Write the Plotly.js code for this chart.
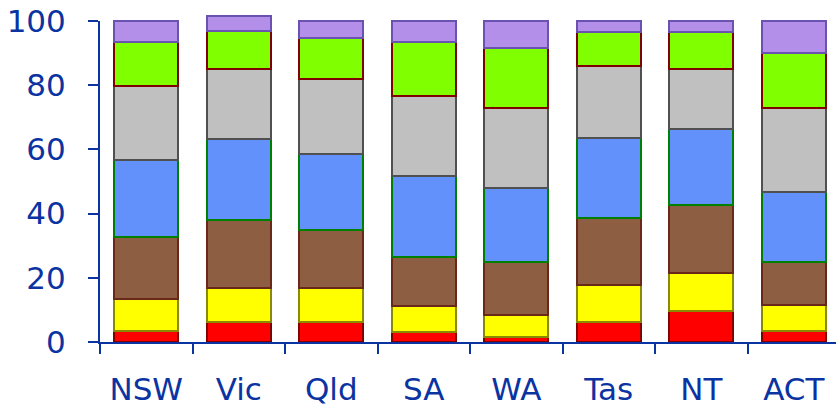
<!DOCTYPE html>
<html>
<head>
<meta charset="utf-8">
<script src="https://cdn.plot.ly/plotly-3.0.1.min.js"></script>
<style>
html,body{margin:0;padding:0;overflow:hidden;background:#fff;}
#chart{width:840px;height:407px;}
</style>
</head>
<body>
<div id="chart"></div>
<script>
const categories = ["NSW", "Vic", "Qld", "SA", "WA", "Tas", "NT", "ACT"];
const seriesRed    = [3.3, 6.1, 6.1, 3.0, 1.6, 6.1, 9.7, 3.3];
const seriesYellow = [10.2, 10.6, 10.6, 8.1, 6.9, 11.7, 11.9, 8.3];
const seriesBrown  = [19.3, 21.3, 18.2, 15.5, 16.3, 20.8, 21.1, 13.2];
const seriesBlue   = [23.9, 25.1, 23.7, 25.1, 23.1, 25.0, 23.8, 21.8];
const seriesGray   = [23.1, 21.8, 23.2, 25.0, 25.0, 22.5, 18.4, 26.3];
const seriesGreen  = [13.7, 11.9, 12.9, 16.8, 18.7, 10.5, 11.7, 17.0];
const seriesPurple = [6.5, 4.7, 5.3, 6.5, 8.4, 3.4, 3.4, 10.1];
const yTicks = [0, 20, 40, 60, 80, 100];

const styles = [
  [seriesRed, "#ff0000", "#800000"],
  [seriesYellow, "#ffff00", "#8a8a00"],
  [seriesBrown, "#8d5e42", "#6a2818"],
  [seriesBlue, "#6391fb", "#008000"],
  [seriesGray, "#c0c0c0", "#505050"],
  [seriesGreen, "#80ff00", "#800000"],
  [seriesPurple, "#b38fea", "#6a52b0"]
];

const traces = styles.map(s => ({
  type: "bar",
  x: categories,
  y: s[0],
  marker: {color: s[1], line: {color: s[2], width: 2}},
  cliponaxis: false,
  hoverinfo: "none"
}));

const axisColor = "#0b33a2";
const layout = {
  width: 840, height: 407,
  margin: {l: 100, r: 0, t: 20.7, b: 64.5},
  barmode: "stack",
  bargap: 0.31,
  showlegend: false,
  paper_bgcolor: "#fff",
  plot_bgcolor: "#fff",
  font: {family: "DejaVu Sans, Verdana, sans-serif", color: axisColor, size: 31},
  xaxis: {
    type: "category",
    showline: true, linecolor: axisColor, linewidth: 2,
    ticks: "outside", tickson: "boundaries", ticklen: 10, tickwidth: 2, tickcolor: axisColor,
    ticklabelstandoff: 19,
    showgrid: false, zeroline: false,
    tickfont: {size: 31, color: axisColor}
  },
  yaxis: {
    range: [0, 100],
    tickvals: yTicks,
    ticktext: yTicks.map(String),
    showline: true, linecolor: axisColor, linewidth: 2,
    ticks: "outside", ticklen: 10, tickwidth: 2, tickcolor: axisColor,
    ticklabelstandoff: 16,
    showgrid: false, zeroline: false,
    tickfont: {size: 31, color: axisColor}
  }
};

function unclip(gd) {
  // let the bar that sums above 100 show past the top of the plot area, as in the reference
  gd.querySelectorAll(".cartesianlayer [clip-path], .cartesianlayer .plot, .barlayer, .trace.bars").forEach(g => {
    g.removeAttribute("clip-path");
    g.style.clipPath = "none";
  });
}

Plotly.newPlot("chart", traces, layout, {staticPlot: true, displayModeBar: false}).then(gd => {
  unclip(gd);
  requestAnimationFrame(() => unclip(gd));
});
</script>
</body>
</html>
